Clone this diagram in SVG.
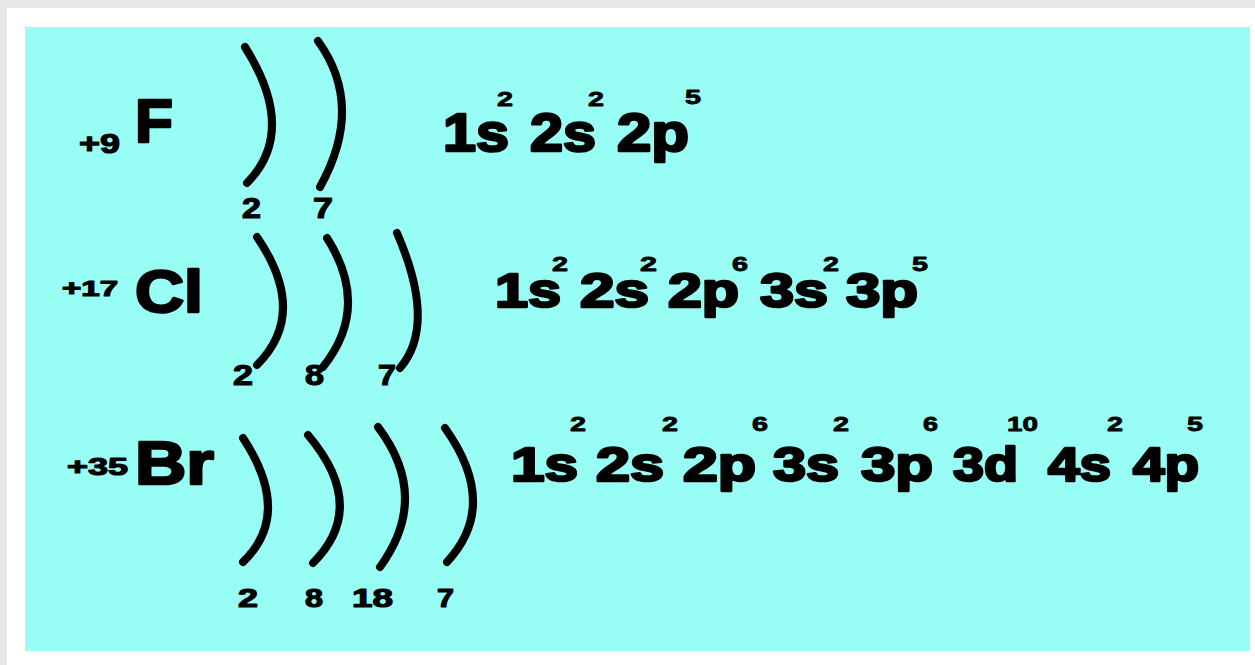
<svg xmlns="http://www.w3.org/2000/svg" width="1255" height="665" viewBox="0 0 1255 665">
<style>
text{font-family:"Liberation Sans",Arial,sans-serif;font-weight:bold;fill:#000;stroke:#000;stroke-linejoin:round}
.big{stroke-width:2.6}
.mid{stroke-width:1.2}
.sm{stroke-width:0.8}
.arc{fill:none;stroke:#000;stroke-width:8;stroke-linecap:round}
</style>
<rect x="0" y="0" width="1255" height="665" fill="#e8e8e8"/>
<rect x="7" y="8" width="1248" height="657" fill="#ffffff"/>
<rect x="25" y="27" width="1225" height="624" fill="#97fdf5"/>
<g id="shells">
<path class="arc" d="M245 47 Q298 131 247 183"/>
<path class="arc" d="M318 41 Q365 106 320 187"/>
<path class="arc" d="M257 237 Q309 313 257 365"/>
<path class="arc" d="M327 238 Q371 307 323 367"/>
<path class="arc" d="M397 233 Q437 325 400 368"/>
<path class="arc" d="M243 438 Q293 514 243 562"/>
<path class="arc" d="M308 435 Q369 507 313 563"/>
<path class="arc" d="M378 427 Q431 497 380 567"/>
<path class="arc" d="M445 428 Q500 505 447 562"/>
</g>
<g id="fluorine">
<text class="mid" x="79" y="153" font-size="28" textLength="41" lengthAdjust="spacingAndGlyphs">+9</text>
<text class="big" x="135" y="142" font-size="62" textLength="38" lengthAdjust="spacingAndGlyphs">F</text>
<text class="mid" x="242" y="218" font-size="29" textLength="19" lengthAdjust="spacingAndGlyphs">2</text>
<text class="mid" x="313" y="218" font-size="29" textLength="20" lengthAdjust="spacingAndGlyphs">7</text>
<text class="big" x="443" y="151" font-size="53" textLength="66" lengthAdjust="spacingAndGlyphs">1s</text>
<text class="big" x="530" y="151" font-size="53" textLength="66" lengthAdjust="spacingAndGlyphs">2s</text>
<text class="big" x="617" y="151" font-size="53" textLength="72" lengthAdjust="spacingAndGlyphs">2p</text>
<text class="sm" x="497" y="106" font-size="20" textLength="16" lengthAdjust="spacingAndGlyphs">2</text>
<text class="sm" x="588" y="106" font-size="20" textLength="16" lengthAdjust="spacingAndGlyphs">2</text>
<text class="sm" x="685" y="104" font-size="20" textLength="16" lengthAdjust="spacingAndGlyphs">5</text>
</g>
<g id="chlorine">
<text class="mid" x="62" y="296" font-size="22" textLength="56" lengthAdjust="spacingAndGlyphs">+17</text>
<text class="big" x="135" y="312" font-size="59" textLength="68" lengthAdjust="spacingAndGlyphs">Cl</text>
<text class="mid" x="233" y="385" font-size="29" textLength="20" lengthAdjust="spacingAndGlyphs">2</text>
<text class="mid" x="305" y="385" font-size="29" textLength="19" lengthAdjust="spacingAndGlyphs">8</text>
<text class="mid" x="378" y="385" font-size="29" textLength="18" lengthAdjust="spacingAndGlyphs">7</text>
<text class="big" x="495" y="307" font-size="48" textLength="66" lengthAdjust="spacingAndGlyphs">1s</text>
<text class="big" x="580" y="307" font-size="48" textLength="69" lengthAdjust="spacingAndGlyphs">2s</text>
<text class="big" x="668" y="307" font-size="48" textLength="71" lengthAdjust="spacingAndGlyphs">2p</text>
<text class="big" x="760" y="307" font-size="48" textLength="68" lengthAdjust="spacingAndGlyphs">3s</text>
<text class="big" x="846" y="307" font-size="48" textLength="72" lengthAdjust="spacingAndGlyphs">3p</text>
<text class="sm" x="552" y="271" font-size="20" textLength="16" lengthAdjust="spacingAndGlyphs">2</text>
<text class="sm" x="640" y="271" font-size="20" textLength="17" lengthAdjust="spacingAndGlyphs">2</text>
<text class="sm" x="732" y="271" font-size="20" textLength="16" lengthAdjust="spacingAndGlyphs">6</text>
<text class="sm" x="823" y="271" font-size="20" textLength="16" lengthAdjust="spacingAndGlyphs">2</text>
<text class="sm" x="912" y="271" font-size="20" textLength="16" lengthAdjust="spacingAndGlyphs">5</text>
</g>
<g id="bromine">
<text class="mid" x="67" y="475" font-size="24" textLength="61" lengthAdjust="spacingAndGlyphs">+35</text>
<text class="big" x="135" y="484" font-size="62" textLength="79" lengthAdjust="spacingAndGlyphs">Br</text>
<text class="mid" x="238" y="607" font-size="26" textLength="20" lengthAdjust="spacingAndGlyphs">2</text>
<text class="mid" x="305" y="607" font-size="26" textLength="18" lengthAdjust="spacingAndGlyphs">8</text>
<text class="mid" x="352" y="607" font-size="26" textLength="41" lengthAdjust="spacingAndGlyphs">18</text>
<text class="mid" x="437" y="607" font-size="26" textLength="17" lengthAdjust="spacingAndGlyphs">7</text>
<text class="big" x="511" y="481" font-size="48" textLength="67" lengthAdjust="spacingAndGlyphs">1s</text>
<text class="big" x="596" y="481" font-size="48" textLength="68" lengthAdjust="spacingAndGlyphs">2s</text>
<text class="big" x="683" y="481" font-size="48" textLength="73" lengthAdjust="spacingAndGlyphs">2p</text>
<text class="big" x="773" y="481" font-size="48" textLength="66" lengthAdjust="spacingAndGlyphs">3s</text>
<text class="big" x="861" y="481" font-size="48" textLength="72" lengthAdjust="spacingAndGlyphs">3p</text>
<text class="big" x="953" y="481" font-size="48" textLength="65" lengthAdjust="spacingAndGlyphs">3d</text>
<text class="big" x="1048" y="481" font-size="48" textLength="63" lengthAdjust="spacingAndGlyphs">4s</text>
<text class="big" x="1133" y="481" font-size="48" textLength="66" lengthAdjust="spacingAndGlyphs">4p</text>
<text class="sm" x="570" y="431" font-size="20" textLength="16" lengthAdjust="spacingAndGlyphs">2</text>
<text class="sm" x="662" y="431" font-size="20" textLength="16" lengthAdjust="spacingAndGlyphs">2</text>
<text class="sm" x="752" y="431" font-size="20" textLength="16" lengthAdjust="spacingAndGlyphs">6</text>
<text class="sm" x="833" y="431" font-size="20" textLength="16" lengthAdjust="spacingAndGlyphs">2</text>
<text class="sm" x="923" y="431" font-size="20" textLength="15" lengthAdjust="spacingAndGlyphs">6</text>
<text class="sm" x="1007" y="431" font-size="20" textLength="31" lengthAdjust="spacingAndGlyphs">10</text>
<text class="sm" x="1107" y="431" font-size="20" textLength="16" lengthAdjust="spacingAndGlyphs">2</text>
<text class="sm" x="1187" y="431" font-size="20" textLength="16" lengthAdjust="spacingAndGlyphs">5</text>
</g>
</svg>
